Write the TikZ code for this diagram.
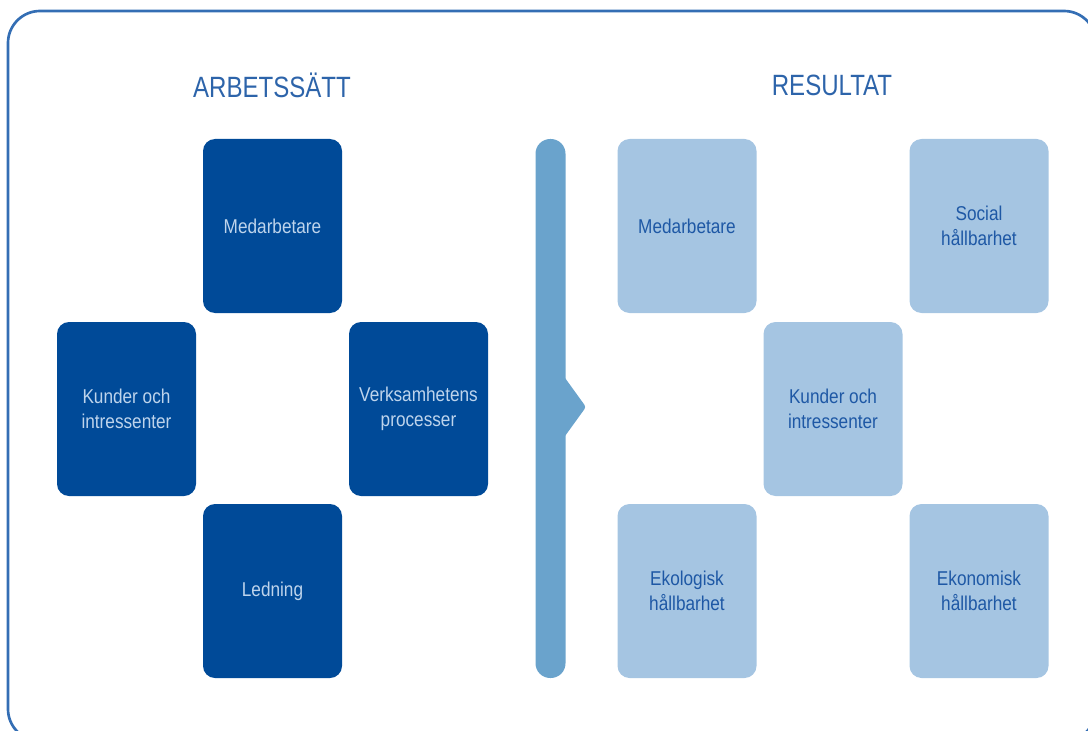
\documentclass[tikz,border=0pt]{standalone}
\usepackage{fontspec}
\setmainfont{Liberation Sans}
\newfontfamily\boxfont[FakeStretch=0.86]{Liberation Sans}
\newfontfamily\titlefont[FakeStretch=0.82]{Liberation Sans}
\definecolor{box_dark}{RGB}{0, 74, 152}
\definecolor{box_light}{RGB}{165, 197, 226}
\definecolor{bar_blue}{RGB}{106, 163, 204}
\definecolor{frame_blue}{RGB}{52, 110, 180}
\definecolor{ttl_blue}{RGB}{45, 100, 170}
\definecolor{txt_light}{RGB}{190, 212, 236}
\definecolor{txt_dark}{RGB}{30, 88, 165}
\tikzstyle{db}=[rectangle,rounded corners=9pt,fill=box_dark,text=txt_light,
  minimum width=104.25pt,minimum height=130.5pt,inner sep=0pt,align=center,
  font=\boxfont\fontsize{15}{18.75}\selectfont]
\tikzstyle{lb}=[db,fill=box_light,text=txt_dark]
\tikzstyle{ttl}=[text=ttl_blue,font=\titlefont\fontsize{22}{26}\selectfont]

\begin{document}
\begin{tikzpicture}[x=0.75pt,y=-0.75pt]
        \useasboundingbox (0,0) rectangle (1088,731);
        \draw[frame_blue,line width=2pt,rounded corners=24pt] (8,11) rectangle (1096,741);
        \node[style=ttl] (t1) at (272,85) {ARBETSSÄTT};
        \node[style=ttl] (t2) at (832,85) {RESULTAT};
        \node[style=db] (a1) at (272.5,226) {Medarbetare};
        \node[style=db] (a2) at (126.5,409) {Kunder och\\intressenter};
        \node[style=db] (a3) at (418.5,409) {Verksamhetens\\processer};
        \node[style=db] (a4) at (272.5,591) {Ledning};
        \node[fill=bar_blue,rounded corners=11pt,minimum width=22.5pt,
          minimum height=404.25pt,inner sep=0pt] (bar) at (550.5,408.5) {};
        \fill[bar_blue,rounded corners=2pt] (560,371) -- (586,407) -- (560,443) -- cycle;
        \node[style=lb] (r1) at (687,226) {Medarbetare};
        \node[style=lb] (r2) at (979,226) {Social\\hållbarhet};
        \node[style=lb] (r3) at (833,409) {Kunder och\\intressenter};
        \node[style=lb] (r4) at (687,591) {Ekologisk\\hållbarhet};
        \node[style=lb] (r5) at (979,591) {Ekonomisk\\hållbarhet};
    \end{tikzpicture}
\end{document}
